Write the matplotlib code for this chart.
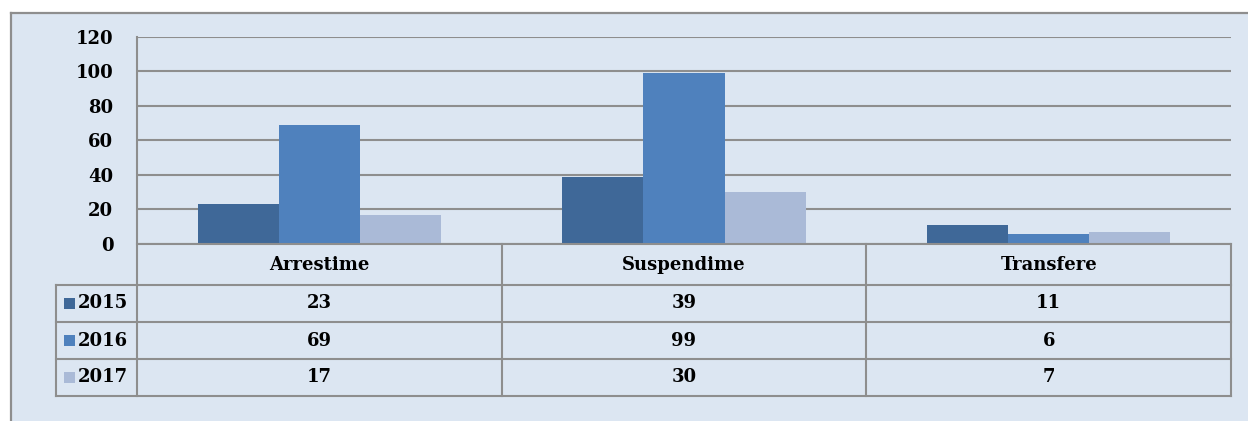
import matplotlib
matplotlib.use("Agg")
import matplotlib.pyplot as plt
from matplotlib.patches import Rectangle
from matplotlib.lines import Line2D
import matplotlib.transforms as mtransforms

categories = ["Arrestime", "Suspendime", "Transfere"]
years = ["2015", "2016", "2017"]
values_2015 = [23, 39, 11]
values_2016 = [69, 99, 6]
values_2017 = [17, 30, 7]
series = [values_2015, values_2016, values_2017]
colors = ["#3F6898", "#4F81BD", "#AABAD7"]
yticks = [0, 20, 40, 60, 80, 100, 120]

W, H = 1248, 421
BG = "#DCE6F2"
LC = "#8E8E8E"
FONT = dict(family="DejaVu Serif", fontweight="bold", fontsize=13, color="black")

fig = plt.figure(figsize=(W / 100, H / 100), dpi=100)
fig.patch.set_facecolor("white")

def fx(px):
    return px / W

def fy(py):
    return 1 - py / H

# outer chart area background + border (top and left)
fig.add_artist(Rectangle((fx(10.5), 0), 1 - fx(10.5), fy(12.5), transform=fig.transFigure,
                         facecolor=BG, edgecolor="none", zorder=0))
fig.add_artist(Line2D([fx(10.5), 1], [fy(12.5), fy(12.5)], transform=fig.transFigure, color=LC, lw=1.6))
fig.add_artist(Line2D([fx(10.5), fx(10.5)], [fy(12.5), 0], transform=fig.transFigure, color=LC, lw=1.6))

x_left, x_right = 137, 1231
y_top, y_zero = 36.7, 244
ax = fig.add_axes([fx(x_left), fy(y_zero), fx(x_right) - fx(x_left), fy(y_top) - fy(y_zero)])
ax.set_facecolor("none")
ax.set_xlim(-0.5, len(categories) - 0.5)
ax.set_ylim(0, 120)

bw = 1 / 4.5
for i, (vals, c) in enumerate(zip(series, colors)):
    xs = [k + (i - 1) * bw for k in range(len(categories))]
    ax.bar(xs, vals, width=bw, color=c, zorder=3, linewidth=0)

ax.set_yticks(yticks)
ax.set_yticklabels([str(t) for t in yticks], **FONT)
ax.tick_params(axis="y", length=0, pad=17)
ax.set_xticks([])
ax.yaxis.grid(True, color=LC, lw=1.5, zorder=1)
for s in ["top", "right", "bottom", "left"]:
    ax.spines[s].set_visible(False)
ax.set_axisbelow(True)

# table below, columns aligned with data coordinates
trans = mtransforms.blended_transform_factory(ax.transData, fig.transFigure)
row_edges = [244, 285, 322, 359, 396]
col_edges = [k - 0.5 for k in range(len(categories) + 1)]
legend_left = 56

def hline(y, x0px=None):
    x0 = fx(x0px) if x0px is not None else fx(x_left)
    fig.add_artist(Line2D([x0, fx(x_right)], [fy(y), fy(y)], transform=fig.transFigure, color=LC, lw=1.5, zorder=5))

hline(row_edges[0])
for y in row_edges[1:]:
    hline(y, legend_left)
# vertical lines
fig.add_artist(Line2D([fx(x_left), fx(x_left)], [fy(y_top), fy(row_edges[-1])], transform=fig.transFigure, color=LC, lw=1.5, zorder=5))
fig.add_artist(Line2D([fx(legend_left), fx(legend_left)], [fy(row_edges[1]), fy(row_edges[-1])], transform=fig.transFigure, color=LC, lw=1.5, zorder=5))
for ce in col_edges[1:]:
    fig.add_artist(Line2D([ce, ce], [fy(row_edges[0]), fy(row_edges[-1])], transform=trans, color=LC, lw=1.5, zorder=5))

# header
hy = fy((row_edges[0] + row_edges[1]) / 2)
for k, cat in enumerate(categories):
    fig.text(k, hy, cat, transform=trans, ha="center", va="center", **FONT)

# rows
for i, (yr, vals, c) in enumerate(zip(years, series, colors)):
    cy = (row_edges[i + 1] + row_edges[i + 2]) / 2
    fig.add_artist(Rectangle((fx(64), fy(cy + 5.5)), fx(10.5), 11 / H, transform=fig.transFigure,
                             facecolor=c, edgecolor="none", zorder=6))
    fig.text(fx(78), fy(cy), yr, ha="left", va="center", **FONT)
    for k, v in enumerate(vals):
        fig.text(k, fy(cy), str(v), transform=trans, ha="center", va="center", **FONT)

fig.savefig("out.png", dpi=100, facecolor="white")
